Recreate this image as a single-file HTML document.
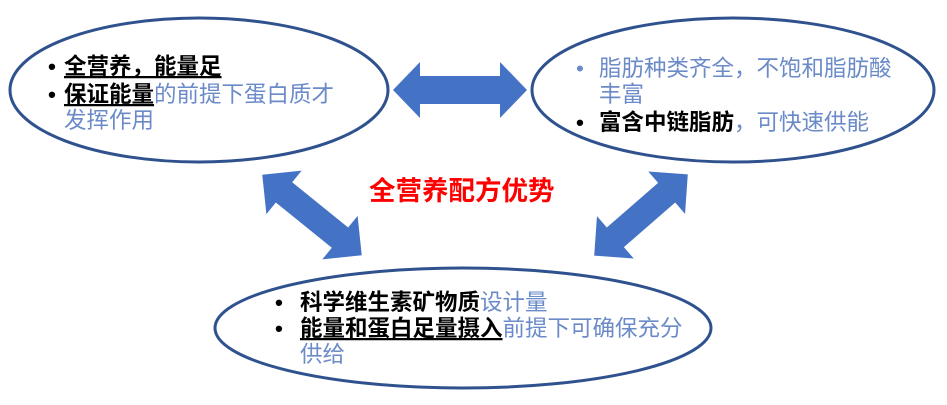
<!DOCTYPE html>
<html><head><meta charset="utf-8"><style>
html,body{margin:0;padding:0;background:#fff;}
svg{display:block;font-family:"Liberation Sans","Noto Sans CJK SC",sans-serif;}
.b{fill:#000;font-weight:bold;}
.l{fill:#6a8ac8;}
</style></head><body>
<svg width="947" height="405" viewBox="0 0 947 405">
<g fill="none" stroke="#2f528f" stroke-width="3">
<ellipse cx="199" cy="90" rx="189" ry="72"/>
<ellipse cx="733" cy="90" rx="201" ry="72"/>
<ellipse cx="463" cy="328" rx="248" ry="60"/>
</g>
<g fill="#4472c4">
<polygon points="393,90 420,62 420,76 500,76 500,62 527,90 500,118 500,104 420,104 420,118"/>
<g transform="translate(312,215) rotate(39)">
<polygon points="-64,0 -36,-28 -36,-13 36,-13 36,-28 64,0 36,28 36,13 -36,13 -36,28"/>
</g>
<g transform="translate(641,215) rotate(-41)">
<polygon points="-62,0 -34,-28 -34,-13 34,-13 34,-28 62,0 34,28 34,13 -34,13 -34,28"/>
</g>
</g>
<g font-size="22.5">
<text x="48" y="74" class="b">•</text>
<text x="64" y="74" class="b" text-decoration="underline">全营养，能量足</text>
<text x="48" y="102" class="b">•</text>
<text x="64" y="102"><tspan class="b" text-decoration="underline">保证能量</tspan><tspan class="l">的前提下蛋白质才</tspan></text>
<text x="64" y="128" class="l">发挥作用</text>

<text x="576" y="76" class="l">•</text>
<text x="599" y="76" class="l">脂肪种类齐全，不饱和脂肪酸</text>
<text x="599" y="102" class="l">丰富</text>
<text x="576" y="130" class="b">•</text>
<text x="599" y="130"><tspan class="b">富含中链脂肪</tspan><tspan class="l">，可快速供能</tspan></text>

<text x="275" y="310" class="b">•</text>
<text x="300" y="310"><tspan class="b">科学维生素矿物质</tspan><tspan class="l">设计量</tspan></text>
<text x="275" y="336" class="b">•</text>
<text x="300" y="336"><tspan class="b" text-decoration="underline">能量和蛋白足量摄入</tspan><tspan class="l">前提下可确保充分</tspan></text>
<text x="300" y="362" class="l">供给</text>
</g>
<text x="369" y="200" font-size="26.5" font-weight="bold" fill="#ff0000">全营养配方优势</text>
</svg>
</body></html>
